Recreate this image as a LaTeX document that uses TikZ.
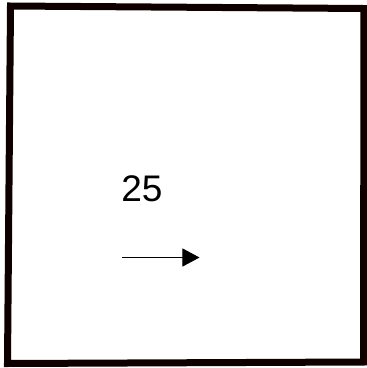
\documentclass[tikz,border=0pt]{standalone}
\usepackage{fontspec}
\setmainfont{Liberation Sans}
\usetikzlibrary{arrows.meta}
\begin{document}
\begin{tikzpicture}[x=1pt,y=-1pt,
  frame/.style={draw=black!90!red!60!black, line width=7pt, line join=miter},
  lbl/.style={inner sep=0pt, anchor=base, font=\fontsize{37}{40}\selectfont},
  arr/.style={line width=0.9pt, -{Triangle[length=17pt,width=18pt]}}]
\useasboundingbox (0,0) rectangle (367,368);
\fill[white] (0,0) rectangle (367,368);
\coordinate (tl) at (10.5,6);
\coordinate (tr) at (364,8.5);
\coordinate (br) at (363.5,362);
\coordinate (bl) at (7.5,363.5);
\draw[frame] (tl) -- (tr) -- (br) -- (bl) -- cycle;
\node[lbl] (n25) at (142,201.5) {25};
\coordinate (a1) at (122.5,257.5);
\coordinate (a2) at (199.5,257.5);
\draw[arr] (a1) -- (a2);
\end{tikzpicture}
\end{document}
